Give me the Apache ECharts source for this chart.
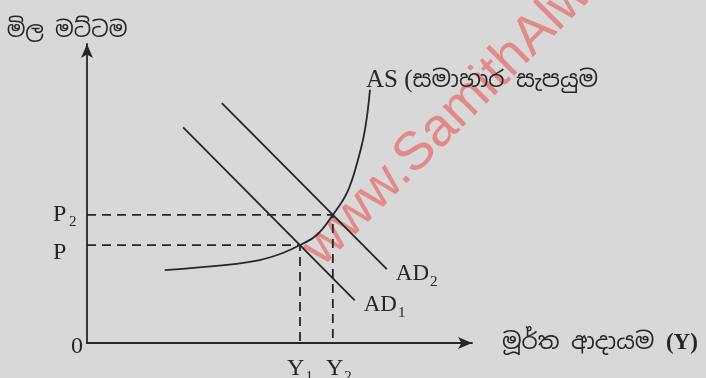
<!DOCTYPE html>
<html>
<head>
<meta charset="utf-8">
<title>AS AD</title>
<script src="https://cdn.jsdelivr.net/npm/echarts@6/dist/echarts.min.js"></script>
<style>
html, body { margin: 0; padding: 0; background: #d8d8d8; }
#chart { width: 706px; height: 378px; }
</style>
</head>
<body>
<div id="chart"></div>
<script>
// AS curve (aggregate supply)
var asX = [19.9, 35.8, 44.2, 50.1, 54.5, 58.8, 62.9, 66.5, 69.1, 71.1, 72.4];
var asY = [23.9, 25.6, 27.2, 29.5, 32.1, 35.4, 42.0, 49.2, 59.0, 69.8, 83.0];
// AD lines, start and end
var ad1X = [24.6, 68.5];
var ad1Y = [70.7, 14.0];
var ad2X = [34.5, 76.7];
var ad2Y = [78.6, 24.2];
// equilibrium points : Y1, Y2 and P, P2
var eqY = [54.5, 62.9];
var eqP = [32.1, 42.0];
var xTickLabels = ['Y1', 'Y2'];
var yTickLabels = ['P', 'P2'];

var serif = '"Liberation Serif", "DejaVu Serif", serif';
var sinhala = '"Noto Sans Sinhala", "Iskoola Pota", "Noto Sans", "DejaVu Sans", sans-serif';
var ink = '#262626';

function pairs(xs, ys) {
	var out = [];
	for (var i = 0; i < xs.length; i++) {
		out.push([xs[i], ys[i]]);
	}
	return out;
}

// "P2" -> P with subscript 2
function sub(txt, style) {
	if (txt.length > 1) {
		return '{' + style + '|' + txt.charAt(0) + '}{s|' + txt.substr(1) + '}';
	}
	return '{' + style + '|' + txt + '}';
}

// rich styles for "AD1" / "AD2"
var adRich = {
	b: { fontFamily: serif, fontSize: 23, color: ink, lineHeight: 24, verticalAlign: 'top' },
	s: { fontFamily: serif, fontSize: 15, color: ink, lineHeight: 15, verticalAlign: 'top', padding: [12, 0, 0, 1] }
};

var myChart = echarts.init(document.getElementById('chart'));

var option = {
	backgroundColor: '#d8d8d8',
	animation: false,
	grid: { left: 87, right: 234, top: 44, bottom: 35, outerBoundsMode: 'none', containLabel: false },
	xAxis: {
		type: 'value',
		min: 0,
		max: 98.5,
		splitLine: { show: false },
		axisLine: { lineStyle: { color: ink, width: 1.8 }, symbol: ['none', 'arrow'], symbolSize: [9, 14] },
		axisTick: { show: false },
		axisLabel: {
			customValues: eqY,
			margin: 14,
			formatter: function (v) {
				var i = eqY.indexOf(v);
				if (i < 0) return '';
				// Y2 sits a little right of its guide in the book
				return sub(xTickLabels[i], i == 0 ? 'xb' : 'xb2');
			},
			rich: {
				xb: { fontFamily: serif, fontSize: 24, color: ink, lineHeight: 24, verticalAlign: 'top' },
				xb2: { fontFamily: serif, fontSize: 24, color: ink, lineHeight: 24, verticalAlign: 'top', padding: [0, 0, 0, 12] },
				s: { fontFamily: serif, fontSize: 15, color: ink, lineHeight: 15, verticalAlign: 'top', padding: [13, 0, 0, 1] }
			}
		},
		name: 'මූර්ත ආදායම {y|(Y)}',
		nameLocation: 'end',
		nameGap: 30,
		nameTextStyle: {
			fontFamily: sinhala,
			fontSize: 23,
			color: ink,
			rich: { y: { fontFamily: serif, fontSize: 23, fontWeight: 'bold', color: ink } }
		}
	},
	yAxis: {
		type: 'value',
		min: 0,
		max: 98,
		splitLine: { show: false },
		axisLine: { lineStyle: { color: ink, width: 1.8 }, symbol: ['none', 'arrow'], symbolSize: [9, 14] },
		axisTick: { show: false },
		axisLabel: {
			customValues: [0].concat(eqP),
			margin: 4,
			formatter: function (v) {
				if (v === 0) return '{z|0}';
				var i = eqP.indexOf(v);
				if (i < 0) return '';
				return i == 0 ? '{p|P}' : sub(yTickLabels[i], 'yb');
			},
			rich: {
				z: { fontFamily: serif, fontSize: 24, color: ink, width: 30, align: 'right', padding: [7, 0, 0, 0] },
				p: { fontFamily: serif, fontSize: 24, color: ink, width: 30, align: 'left', padding: [16, 0, 0, 0] },
				yb: { fontFamily: serif, fontSize: 24, color: ink, width: 16, align: 'left', lineHeight: 24, verticalAlign: 'top' },
				s: { fontFamily: serif, fontSize: 15, color: ink, width: 14, align: 'left', lineHeight: 15, verticalAlign: 'top', padding: [12, 0, 0, 0] }
			}
		},
		name: 'මිල මට්ටම',
		nameLocation: 'end',
		nameGap: 2,
		nameTextStyle: { fontFamily: sinhala, fontSize: 22, color: ink, align: 'center', padding: [0, 40, 0, 0] }
	},
	graphic: [{
		// watermark of the scan
		type: 'text',
		x: 331,
		y: 276,
		rotation: Math.PI / 4,
		silent: true,
		style: {
			text: 'www.SamithAlwis.com',
			fontFamily: '"Liberation Sans", Arial, sans-serif',
			fontSize: 54,
			fill: 'rgba(232, 95, 95, 0.65)',
			textAlign: 'left',
			textVerticalAlign: 'bottom'
		}
	}],
	series: [{
		// dashed guides to P, Y1
		type: 'line',
		data: [[0, eqP[0]], [eqY[0], eqP[0]], [eqY[0], 0]],
		symbol: 'none',
		lineStyle: { color: ink, width: 1.8, type: [9, 6] },
		z: 1
	}, {
		// dashed guides to P2, Y2
		type: 'line',
		data: [[0, eqP[1]], [eqY[1], eqP[1]], [eqY[1], 0]],
		symbol: 'none',
		lineStyle: { color: ink, width: 1.8, type: [9, 6] },
		z: 1
	}, {
		name: 'AS',
		type: 'line',
		data: pairs(asX, asY),
		smooth: 0.4,
		symbol: 'none',
		lineStyle: { color: ink, width: 1.8 },
		endLabel: {
			show: true,
			distance: 0,
			offset: [-4, -9],
			formatter: '{a|AS (}{si|සමාහාර සැපයුම}',
			rich: {
				a: { fontFamily: serif, fontSize: 25, color: ink },
				si: { fontFamily: sinhala, fontSize: 23, color: ink }
			}
		},
		z: 3
	}, {
		name: 'AD1',
		type: 'line',
		data: pairs(ad1X, ad1Y),
		symbol: 'none',
		lineStyle: { color: ink, width: 1.8 },
		endLabel: { show: true, distance: 4, offset: [5, 5], formatter: '{b|AD}{s|1}', rich: adRich },
		z: 3
	}, {
		name: 'AD2',
		type: 'line',
		data: pairs(ad2X, ad2Y),
		symbol: 'none',
		lineStyle: { color: ink, width: 1.8 },
		endLabel: { show: true, distance: 4, offset: [5, 5], formatter: '{b|AD}{s|2}', rich: adRich },
		z: 3
	}]
};

myChart.setOption(option);
</script>
</body>
</html>
